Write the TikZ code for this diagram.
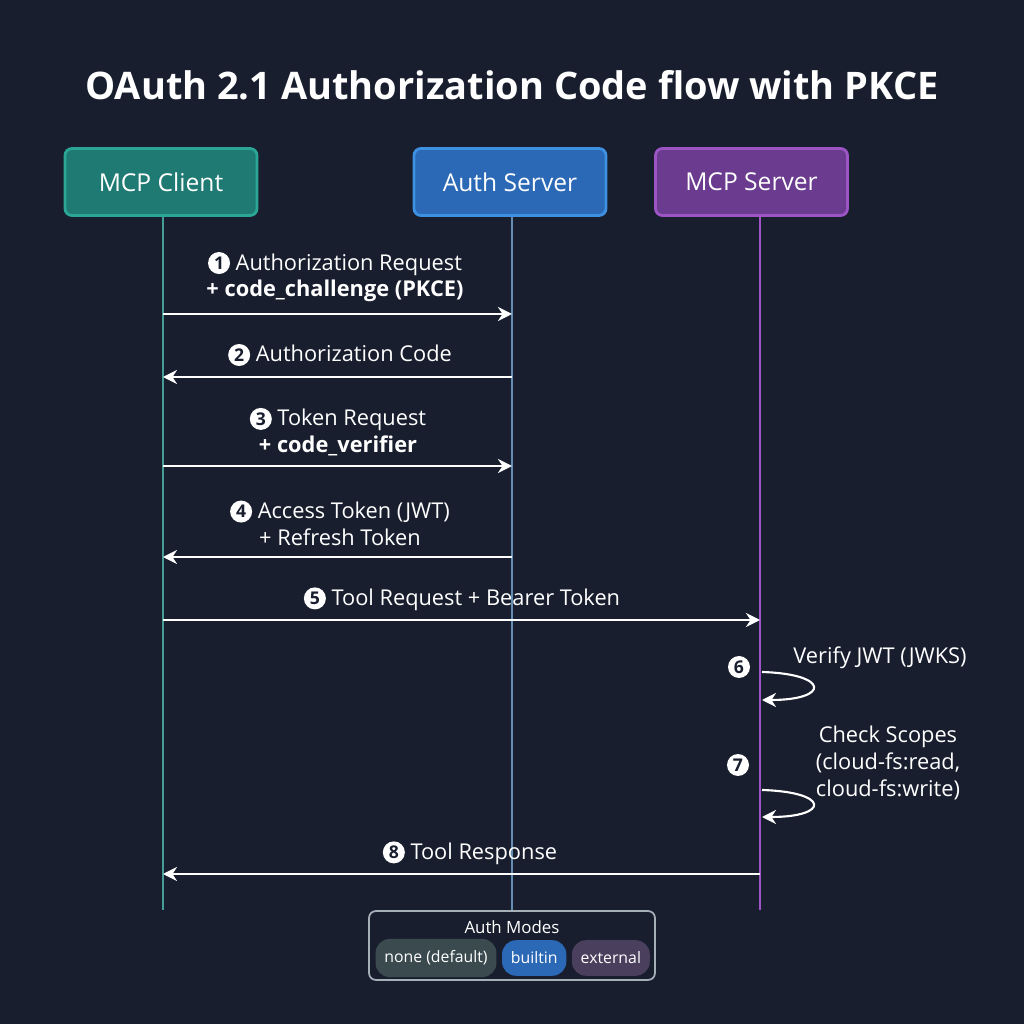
\documentclass[tikz,border=0pt]{standalone}
\usepackage{fontspec}
\setmainfont{Open Sans}
\usetikzlibrary{arrows.meta, positioning}
\definecolor{mbg}{HTML}{181E2E}
\definecolor{mteal}{HTML}{1E7A72}
\definecolor{mtealb}{HTML}{2BA596}
\definecolor{mblue}{HTML}{2B68B5}
\definecolor{mblueb}{HTML}{3E90E0}
\definecolor{mpurp}{HTML}{6A3B8E}
\definecolor{mpurpb}{HTML}{9D55C6}
\definecolor{mline}{HTML}{7F8C99}
\definecolor{mnone}{HTML}{3A4A4E}
\definecolor{mext}{HTML}{4A3F5C}
\tikzstyle{actor} = [rectangle, rounded corners=2pt, minimum width=1.92cm, minimum height=0.67cm, text=white, font=\fontsize{7pt}{8pt}\selectfont, line width=0.8pt]
\tikzstyle{msg} = [white, line width=0.6pt, -{Stealth[length=4pt,width=4pt]}]
\tikzstyle{lbl} = [text=white, font=\fontsize{6.2pt}{7.6pt}\selectfont, align=center]
\tikzstyle{stepnum} = [circle, fill=white, text=mbg, inner sep=0pt, minimum size=0.22cm, font=\fontsize{5pt}{5pt}\selectfont\bfseries]
\tikzstyle{life} = [line width=0.6pt]
\tikzstyle{mode} = [rounded corners=0.14cm, minimum height=0.29cm, text=white, font=\fontsize{4.5pt}{5pt}\selectfont, inner xsep=2.5pt]
\newcommand{\stepmark}[1]{\tikz[baseline=-0.6ex]\node[stepnum]{#1};}

\begin{document}
\begin{tikzpicture}[x=1cm,y=1cm]
  \fill[mbg] (0,0) rectangle (10.24,10.24);
  \node[text=white, font=\fontsize{10.8pt}{13pt}\selectfont\bfseries] (title) at (5.12,9.39) {OAuth 2.1 Authorization Code flow with PKCE};
  \node (client) [actor, fill=mteal, draw=mtealb] at (1.61,8.42) {MCP Client};
  \node (auth) [actor, fill=mblue, draw=mblueb] at (5.10,8.42) {Auth Server};
  \node (mcp) [actor, fill=mpurp, draw=mpurpb] at (7.515,8.42) {MCP Server};
  % lifelines
  \coordinate (cend) at (1.63,1.14);
  \coordinate (aend) at (5.12,1.14);
  \coordinate (mend) at (7.60,1.14);
  \draw[life, mtealb!70!mline] (client.south -| cend) -- (cend);
  \draw[life, mblueb!40!mline] (auth.south -| aend) -- (aend);
  \draw[life, mpurpb] (mcp.south -| mend) -- (mend);
  % messages
  \coordinate (c1) at (1.63,7.10); \coordinate (a1) at (5.12,7.10);
  \coordinate (c2) at (1.63,6.47); \coordinate (a2) at (5.12,6.47);
  \coordinate (c3) at (1.63,5.58); \coordinate (a3) at (5.12,5.58);
  \coordinate (c4) at (1.63,4.67); \coordinate (a4) at (5.12,4.67);
  \coordinate (c5) at (1.63,4.04); \coordinate (m5) at (7.60,4.04);
  \coordinate (c8) at (1.63,1.50); \coordinate (m8) at (7.60,1.50);
  \draw[msg] (c1) -- (a1);
  \draw[msg] (a2) -- (c2);
  \draw[msg] (c3) -- (a3);
  \draw[msg] (a4) -- (c4);
  \draw[msg] (c5) -- (m5);
  \draw[msg] (m8) -- (c8);
  \node (l1) [lbl] at (3.35,7.47) {\stepmark{1} Authorization Request\\ \textbf{+ code\_challenge (PKCE)}};
  \node (l2) [lbl] at (3.40,6.69) {\stepmark{2} Authorization Code};
  \node (l3) [lbl] at (3.38,5.92) {\stepmark{3} Token Request\\ \textbf{+ code\_verifier}};
  \node (l4) [lbl] at (3.40,5.01) {\stepmark{4} Access Token (JWT)\\ + Refresh Token};
  \node (l5) [lbl] at (4.62,4.25) {\stepmark{5} Tool Request + Bearer Token};
  \node (l8) [lbl] at (4.70,1.71) {\stepmark{8} Tool Response};
  % self checks
  \coordinate (m6a) at (7.62,3.52); \coordinate (m6b) at (7.62,3.24);
  \coordinate (m7a) at (7.62,2.34); \coordinate (m7b) at (7.62,2.07);
  \draw[msg] (m6a) .. controls (8.30,3.50) and (8.30,3.24) .. (m6b);
  \draw[msg] (m7a) .. controls (8.30,2.32) and (8.30,2.07) .. (m7b);
  \node (s6) [stepnum] at (7.39,3.57) {6};
  \node (s7) [stepnum] at (7.38,2.59) {7};
  \node (l6) [lbl] at (8.80,3.66) {Verify JWT (JWKS)};
  \node (l7) [lbl] at (8.88,2.61) {Check Scopes\\ (cloud-fs:read,\\ cloud-fs:write)};
  % legend
  \node (legend) [draw=mline!70, rounded corners=2pt, fill=mbg, line width=0.5pt, minimum width=2.86cm, minimum height=0.69cm] at (5.12,0.785) {};
  \node (ltitle) [text=white, font=\fontsize{4.8pt}{5pt}\selectfont] at (5.12,0.97) {Auth Modes};
  \node (none) [mode, fill=mnone] at (4.36,0.66) {none (default)};
  \node (builtin) [mode, fill=mblue, right=1.2pt of none] {builtin};
  \node (ext) [mode, fill=mext, right=1.2pt of builtin] {external};
\end{tikzpicture}
\end{document}
